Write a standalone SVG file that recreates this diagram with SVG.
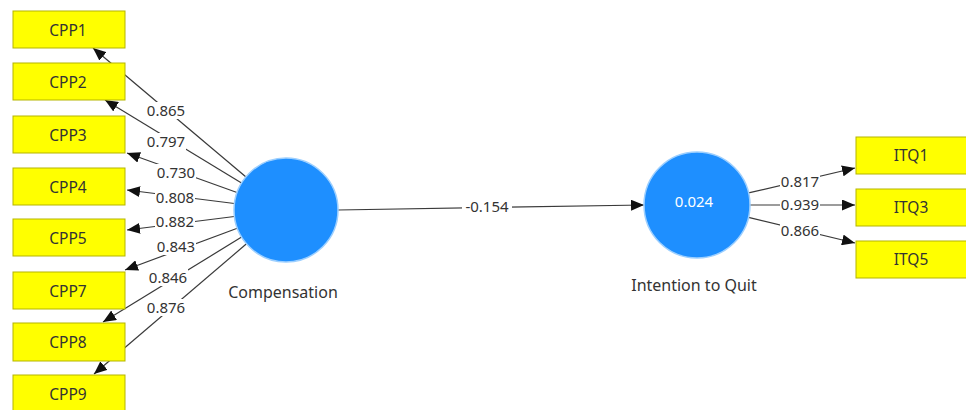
<svg xmlns="http://www.w3.org/2000/svg" width="966" height="410" viewBox="0 0 966 410">
<defs>
<style>
.box{fill:#ffff00;stroke:#b5b500;stroke-width:1}
.bt{font-family:"Noto Sans","Open Sans",sans-serif;font-size:15.5px;fill:#333;text-anchor:middle}
.lv{fill:#1e8fff;stroke:#9ccfff;stroke-width:1.5}
.ln{stroke:#3a3a3a;stroke-width:1.2;fill:none;marker-end:url(#ah)}
.lb{font-family:"Noto Sans","Open Sans",sans-serif;font-size:15px;fill:#333;text-anchor:middle}
.bg{fill:#fff}
.cap{font-family:"Noto Sans","Open Sans",sans-serif;font-size:16px;fill:#333;text-anchor:middle}
</style>
<marker id="ah" markerUnits="userSpaceOnUse" markerWidth="13" markerHeight="11" refX="13" refY="5.5" orient="auto">
<path d="M0,0 L13,5.5 L0,11 Z" fill="#111"/>
</marker>
</defs>
<rect width="966" height="410" fill="#fff"/>
<g id="connectors">
<line class="ln" x1="246" y1="177" x2="93" y2="48"/>
<line class="ln" x1="241.5" y1="183" x2="105" y2="100"/>
<line class="ln" x1="237" y1="192.5" x2="127" y2="153"/>
<line class="ln" x1="234.4" y1="203.5" x2="127" y2="190"/>
<line class="ln" x1="234.4" y1="216.5" x2="127" y2="230"/>
<line class="ln" x1="237.3" y1="228.2" x2="125" y2="270"/>
<line class="ln" x1="241.6" y1="237.1" x2="103" y2="322"/>
<line class="ln" x1="246.5" y1="243.8" x2="94" y2="374"/>
<line class="ln" x1="338" y1="210" x2="644" y2="205"/>
<line class="ln" x1="748.6" y1="192.9" x2="855" y2="168"/>
<line class="ln" x1="750" y1="205" x2="855" y2="205"/>
<line class="ln" x1="748.5" y1="217.4" x2="855" y2="243"/>
<g id="labels">
<rect class="bg" x="146" y="102" width="40" height="17"/><text class="lb" x="166" y="116">0.865</text>
<rect class="bg" x="146" y="133" width="40" height="17"/><text class="lb" x="166" y="147">0.797</text>
<rect class="bg" x="156" y="164" width="40" height="17"/><text class="lb" x="176" y="178">0.730</text>
<rect class="bg" x="155" y="189" width="40" height="17"/><text class="lb" x="175" y="203">0.808</text>
<rect class="bg" x="155" y="213" width="40" height="17"/><text class="lb" x="175" y="227">0.882</text>
<rect class="bg" x="156" y="238" width="40" height="17"/><text class="lb" x="176" y="252">0.843</text>
<rect class="bg" x="148" y="269" width="40" height="17"/><text class="lb" x="168" y="283">0.846</text>
<rect class="bg" x="146" y="299" width="40" height="17"/><text class="lb" x="166" y="313">0.876</text>
<rect class="bg" x="462" y="198" width="50" height="17"/><text class="lb" x="487" y="212">-0.154</text>
<rect class="bg" x="780" y="173" width="40" height="17"/><text class="lb" x="800" y="187">0.817</text>
<rect class="bg" x="780" y="197" width="40" height="17"/><text class="lb" x="800" y="210">0.939</text>
<rect class="bg" x="780" y="222" width="40" height="17"/><text class="lb" x="800" y="236">0.866</text>
</g>
</g>
<g id="CPP1"><rect class="box" x="13" y="11" width="112" height="37"/><text class="bt" x="68" y="36">CPP1</text></g>
<g id="CPP2"><rect class="box" x="13" y="63" width="112" height="37"/><text class="bt" x="68" y="88">CPP2</text></g>
<g id="CPP3"><rect class="box" x="13" y="116" width="112" height="37"/><text class="bt" x="68" y="141">CPP3</text></g>
<g id="CPP4"><rect class="box" x="13" y="168" width="112" height="37"/><text class="bt" x="68" y="193">CPP4</text></g>
<g id="CPP5"><rect class="box" x="13" y="219" width="112" height="37"/><text class="bt" x="68" y="244">CPP5</text></g>
<g id="CPP7"><rect class="box" x="13" y="272" width="112" height="37"/><text class="bt" x="68" y="297">CPP7</text></g>
<g id="CPP8"><rect class="box" x="13" y="323" width="112" height="38"/><text class="bt" x="68" y="348">CPP8</text></g>
<g id="CPP9"><rect class="box" x="13" y="375" width="112" height="40"/><text class="bt" x="68" y="400">CPP9</text></g>
<g id="Compensation"><circle class="lv" cx="286" cy="210" r="52"/><text class="cap" x="283" y="298">Compensation</text></g>
<g id="IntentionToQuit"><circle class="lv" cx="697" cy="205" r="53"/><text class="lb" x="694" y="207" style="fill:#fff">0.024</text><text class="cap" x="694" y="291">Intention to Quit</text></g>
<g id="ITQ1"><rect class="box" x="856" y="137" width="112" height="37"/><text class="bt" x="911" y="161">ITQ1</text></g>
<g id="ITQ3"><rect class="box" x="856" y="189" width="112" height="37"/><text class="bt" x="911" y="213">ITQ3</text></g>
<g id="ITQ5"><rect class="box" x="856" y="241" width="112" height="37"/><text class="bt" x="911" y="265">ITQ5</text></g>
</svg>
